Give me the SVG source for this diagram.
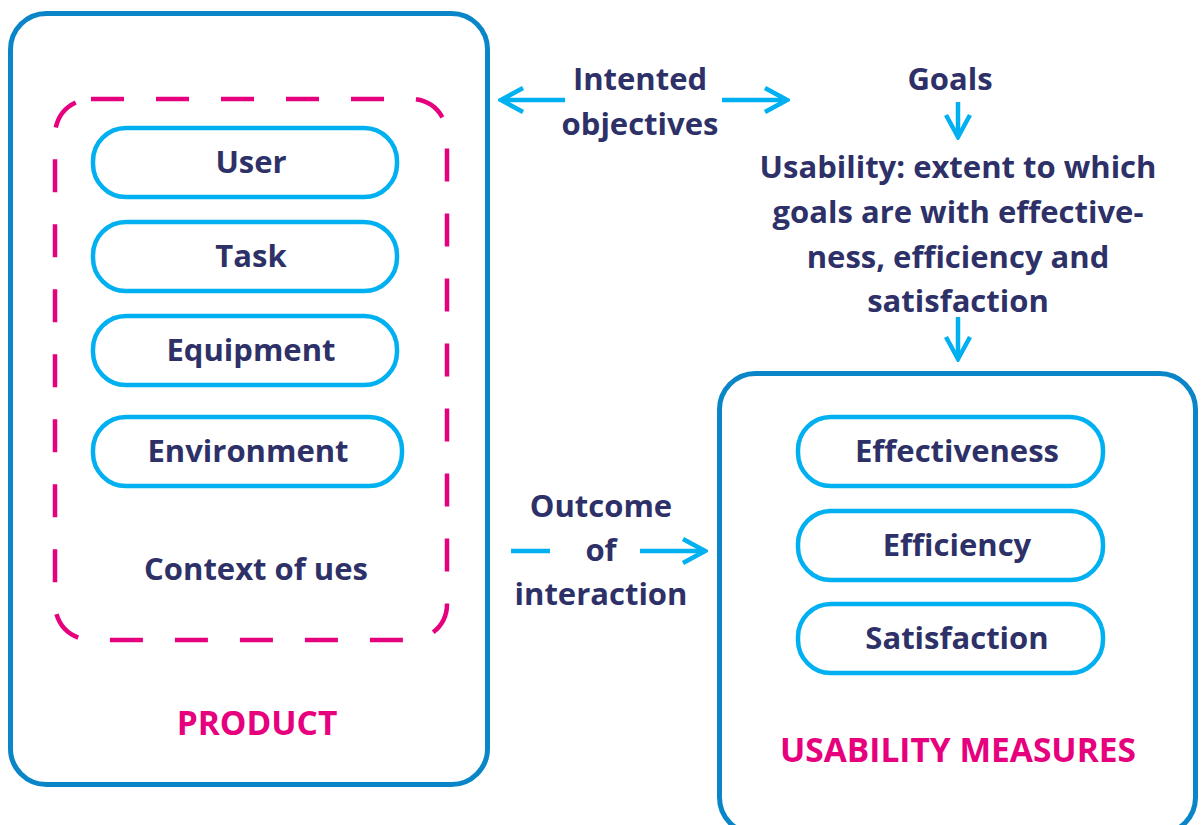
<svg xmlns="http://www.w3.org/2000/svg" width="1203" height="825" viewBox="0 0 1203 825">
  <style>
    .frame { fill: #ffffff; stroke: #0a86c8; stroke-width: 5; }
    .context { fill: none; stroke: #e6007e; stroke-width: 4.5; stroke-dasharray: 33 32; }
    .pill { fill: #ffffff; stroke: #00b0f0; stroke-width: 4.5; }
    .txt { font-family: "Open Sans", "Liberation Sans", sans-serif; font-weight: 700; font-size: 31px; fill: #2e3168; text-anchor: middle; }
    .title { font-family: "Open Sans", "Liberation Sans", sans-serif; font-weight: 700; font-size: 33.5px; fill: #e6007e; text-anchor: middle; }
    .conn { fill: none; stroke: #00b0f0; stroke-width: 4.5; }
  </style>
  <defs>
    <!-- open chevron arrowhead -->
    <marker id="chev" viewBox="0 0 30 30" refX="27" refY="15" markerWidth="30" markerHeight="30" markerUnits="userSpaceOnUse" orient="auto-start-reverse">
      <path d="M5,3 L27,15 L5,27" fill="none" stroke="#00b0f0" stroke-width="4.5"/>
    </marker>
  </defs>
  <rect width="1203" height="825" fill="#ffffff"/>

  <g id="product">
    <rect class="frame" x="10.5" y="13.5" width="477" height="771" rx="36"/>
    <text class="title" x="257" y="735">PRODUCT</text>
  </g>

  <g id="context-of-use">
    <rect class="context" x="55" y="99" width="392" height="541" rx="36"/>
    <text class="txt" x="256" y="580">Context of ues</text>
  </g>

  <g id="user">
    <rect class="pill" x="93" y="128" width="304" height="69" rx="33"/>
    <text class="txt" x="251" y="173">User</text>
  </g>
  <g id="task">
    <rect class="pill" x="93" y="222" width="304" height="69" rx="33"/>
    <text class="txt" x="251" y="267">Task</text>
  </g>
  <g id="equipment">
    <rect class="pill" x="93" y="316" width="304" height="69" rx="33"/>
    <text class="txt" x="251" y="361">Equipment</text>
  </g>
  <g id="environment">
    <rect class="pill" x="93" y="417" width="309" height="69" rx="33"/>
    <text class="txt" x="248" y="462">Environment</text>
  </g>

  <g id="usability-measures">
    <rect class="frame" x="719.5" y="373.5" width="476" height="460" rx="36"/>
    <text class="title" x="958" y="762">USABILITY MEASURES</text>
  </g>
  <g id="effectiveness">
    <rect class="pill" x="798" y="417" width="305" height="69" rx="33"/>
    <text class="txt" x="957" y="462">Effectiveness</text>
  </g>
  <g id="efficiency">
    <rect class="pill" x="798" y="511" width="305" height="69" rx="33"/>
    <text class="txt" x="957" y="556">Efficiency</text>
  </g>
  <g id="satisfaction">
    <rect class="pill" x="798" y="604" width="305" height="69" rx="33"/>
    <text class="txt" x="957" y="649">Satisfaction</text>
  </g>

  <g id="goals">
    <text class="txt" x="950" y="90">Goals</text>
  </g>
  <g id="usability-definition">
    <text class="txt" x="958" y="178">Usability: extent to which</text>
    <text class="txt" x="958" y="223">goals are with effective-</text>
    <text class="txt" x="958" y="268">ness, efficiency and</text>
    <text class="txt" x="958" y="312">satisfaction</text>
  </g>

  <g id="connectors">
    <line class="conn" x1="565" y1="100" x2="501" y2="100" marker-end="url(#chev)"/>
    <line class="conn" x1="722" y1="100" x2="787" y2="100" marker-end="url(#chev)"/>
    <text class="txt" x="640" y="90">Intented</text>
    <text class="txt" x="640" y="135">objectives</text>

    <line class="conn" x1="958" y1="102" x2="958" y2="137" marker-end="url(#chev)"/>
    <line class="conn" x1="958" y1="317" x2="958" y2="359" marker-end="url(#chev)"/>

    <line class="conn" x1="511" y1="551" x2="550" y2="551"/>
    <line class="conn" x1="640" y1="551" x2="705" y2="551" marker-end="url(#chev)"/>
    <text class="txt" x="601" y="517">Outcome</text>
    <text class="txt" x="601" y="561">of</text>
    <text class="txt" x="601" y="605">interaction</text>
  </g>
</svg>
